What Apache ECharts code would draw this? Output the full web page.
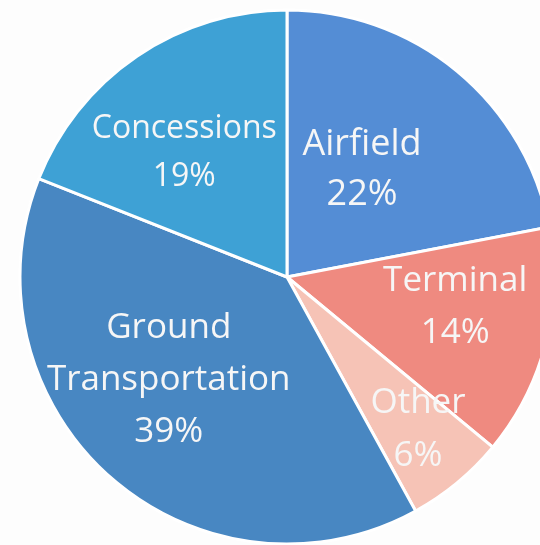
<!DOCTYPE html>
<html>
<head>
<meta charset="utf-8">
<script src="https://cdn.jsdelivr.net/npm/echarts@6/dist/echarts.min.js"></script>
<style>
html,body{margin:0;padding:0;background:#fdfdfd;}
#main{width:540px;height:545px;}
</style>
</head>
<body>
<div id="main"></div>
<script>
var categories = ['Airfield', 'Terminal', 'Other', 'Ground Transportation', 'Concessions'];
var values = [22, 14, 6, 39, 19];
var colors = ['#548dd5', '#ef8a80', '#f6c3b6', '#4887c2', '#3ea1d5'];
// label nudges (px) from the default inside position
var labelShift = [[-12, -2], [36, -4], [44, 47], [-28, 1], [-26, -11]];
var labelSize = [36, 35, 35, 35, 32];
var labelLine = [50, 52, 53, 52, 48];

var chart = echarts.init(document.getElementById('main'), null, {renderer: 'canvas'});
var data = categories.map(function (c, i) {
  return {
    name: c,
    value: values[i],
    itemStyle: {color: colors[i]},
    label: {fontSize: labelSize[i], lineHeight: labelLine[i]}
  };
});
chart.setOption({
  backgroundColor: '#fdfdfd',
  animation: false,
  series: [{
    type: 'pie',
    center: [287, 277],
    radius: [0, 267],
    startAngle: 90,
    clockwise: true,
    data: data,
    itemStyle: {borderColor: '#ffffff', borderWidth: 3},
    label: {
      show: true,
      position: 'inside',
      color: '#f6f6f6',
      fontFamily: 'Open Sans',
      formatter: function (p) {
        return p.name.replace(' ', '\n') + '\n' + p.value + '%';
      }
    },
    labelLine: {show: false},
    labelLayout: function (p) {
      var s = labelShift[p.dataIndex];
      return {dx: s[0], dy: s[1]};
    }
  }]
});
</script>
</body>
</html>
